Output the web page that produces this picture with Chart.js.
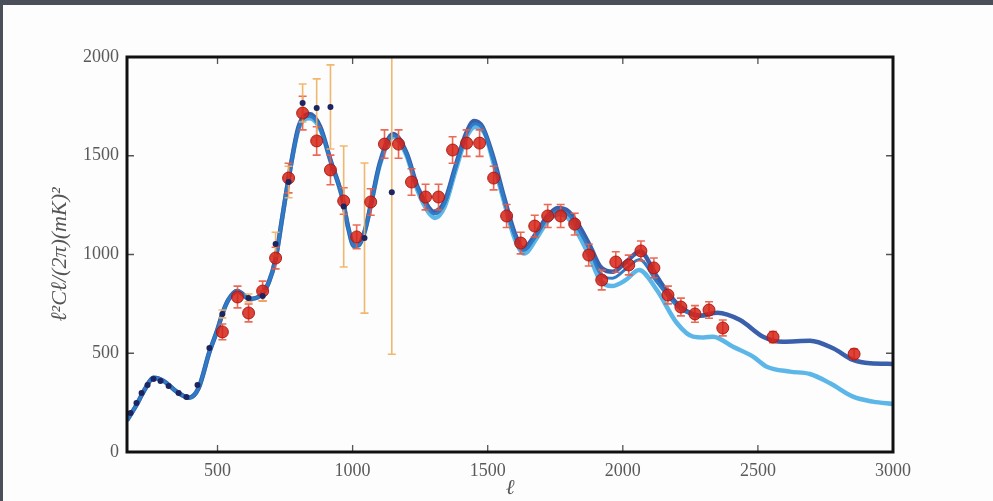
<!DOCTYPE html>
<html>
<head>
<meta charset="utf-8">
<script src="https://cdn.jsdelivr.net/npm/chart.js@4.4.1/dist/chart.umd.min.js"></script>
<style>
  html, body { margin: 0; padding: 0; background: #4b4f5a; }
  body { width: 993px; height: 501px; overflow: hidden; position: relative; }
  #wrap { position: absolute; left: 3px; top: 5px; width: 990px; height: 496px; background: #fdfdfe; }
</style>
</head>
<body>
<div id="wrap"><canvas id="spectrum" width="990" height="496"></canvas></div>
<script>
const xTicks = [500, 1000, 1500, 2000, 2500, 3000];
const yTicks = [0, 500, 1000, 1500, 2000];

// red points (small-scale data) with their error bars
const redL = [518, 574, 615, 667, 715, 763, 815, 867, 918, 967, 1015, 1067, 1118, 1170, 1218, 1270, 1318, 1370, 1422, 1470,
  1522, 1570, 1622, 1674, 1722, 1770, 1822, 1874, 1922, 1974, 2022, 2067, 2115, 2167, 2215, 2267, 2319, 2370, 2556, 2856];
const redV = [608, 785, 704, 815, 982, 1387, 1716, 1575, 1428, 1271, 1089, 1266, 1559, 1559, 1367, 1291, 1291, 1529, 1564, 1564,
  1387, 1195, 1058, 1144, 1195, 1195, 1154, 997, 871, 962, 947, 1018, 932, 795, 734, 699, 719, 628, 582, 496];
const redErr = [40, 55, 45, 50, 55, 75, 85, 72, 75, 67, 60, 67, 72, 72, 67, 65, 65, 67, 67, 67,
  60, 58, 55, 55, 58, 58, 55, 55, 50, 52, 50, 50, 50, 45, 45, 42, 42, 40, 28, 25];

// small navy points, orange error bars
const wmapL = [178, 200, 219, 241, 263, 289, 319, 356, 385, 426, 470, 518, 615, 667, 715, 763, 815, 867, 918, 967, 1044, 1145];
const wmapV = [197, 248, 299, 339, 370, 359, 334, 299, 278, 339, 527, 699, 780, 790, 1053, 1367, 1767, 1742, 1747, 1243, 1083, 1315];
const wmapErr = [0, 0, 0, 0, 0, 0, 0, 0, 0, 0, 0, 20, 20, 25, 60, 80, 96, 147, 213, 306, 380, 820];

// model curves
const darkL = [165, 200, 230, 263, 300, 350, 395, 430, 470, 500, 518, 540, 573, 620, 660, 690, 715, 740, 763, 800,
  840, 880, 920, 960, 985, 1005, 1022, 1045, 1067, 1100, 1150, 1200, 1240, 1280, 1300, 1340, 1380, 1420, 1450, 1480,
  1520, 1560, 1600, 1630, 1680, 1720, 1760, 1800, 1840, 1880, 1916, 1964, 2010, 2064, 2126, 2170, 2212, 2286, 2350, 2434,
  2519, 2593, 2693, 2778, 2852, 2915, 3000];
const darkV = [160, 238, 315, 376, 360, 304, 275, 324, 506, 620, 700, 770, 815, 775, 795, 860, 977, 1191, 1384, 1647,
  1711, 1647, 1470, 1300, 1130, 1045, 1048, 1120, 1250, 1460, 1610, 1513, 1343, 1242, 1217, 1267, 1444, 1613, 1676, 1647,
  1495, 1293, 1108, 1032, 1108, 1192, 1235, 1217, 1141, 1040, 940, 913, 960, 1015, 888, 800, 736, 690, 705, 668,
  584, 558, 563, 525, 466, 449, 446];

const midL = [165, 200, 230, 263, 300, 350, 395, 430, 470, 500, 518, 540, 573, 620, 660, 690, 715, 740, 763, 800,
  840, 880, 920, 960, 985, 1005, 1022, 1045, 1067, 1100, 1150, 1200, 1240, 1280, 1302, 1340, 1380, 1420, 1452, 1485,
  1520, 1560, 1600, 1632, 1680, 1720, 1762, 1800, 1840, 1880, 1916, 1962, 2010, 2062, 2126, 2212, 2286];
const midV = [160, 238, 315, 376, 360, 304, 275, 324, 506, 620, 700, 770, 815, 775, 795, 860, 977, 1191, 1384, 1640,
  1700, 1640, 1468, 1298, 1128, 1045, 1048, 1118, 1248, 1455, 1603, 1508, 1335, 1232, 1205, 1255, 1435, 1603, 1662, 1630,
  1485, 1283, 1095, 1020, 1095, 1180, 1222, 1200, 1118, 1015, 905, 880, 925, 975, 860, 725, 688];

const lightL = [165, 200, 230, 263, 300, 350, 395, 430, 470, 500, 518, 540, 573, 620, 660, 690, 715, 740, 763, 800,
  840, 880, 920, 960, 985, 1005, 1022, 1045, 1067, 1100, 1150, 1200, 1240, 1280, 1305, 1340, 1380, 1420, 1455, 1490,
  1520, 1560, 1600, 1635, 1680, 1720, 1765, 1800, 1840, 1880, 1916, 1960, 2010, 2060, 2126, 2200, 2260, 2300, 2334, 2408,
  2482, 2533, 2619, 2693, 2767, 2852, 2926, 3000];
const lightV = [160, 238, 315, 376, 360, 304, 275, 324, 506, 620, 700, 770, 815, 775, 795, 860, 977, 1191, 1384, 1635,
  1690, 1635, 1465, 1295, 1125, 1040, 1045, 1115, 1245, 1450, 1595, 1500, 1325, 1215, 1185, 1240, 1420, 1590, 1647, 1610,
  1470, 1270, 1080, 1005, 1080, 1165, 1205, 1180, 1090, 980, 870, 840, 870, 922, 820, 653, 584, 580, 584, 533,
  483, 432, 407, 395, 348, 280, 255, 243];

const pts = (ls, vs) => ls.map((l, i) => ({ x: l, y: vs[i] }));
const serif = "'Liberation Serif', 'DejaVu Serif', serif";

// error bars + frame with inward ticks
const errorBars = {
  id: 'errorBars',
  afterDatasetDraw(chart, args) {
    if (!chart.data.datasets[args.index].barsAfter) return;
    const { ctx, chartArea: a, scales: { x, y } } = chart;
    ctx.save();
    ctx.beginPath();
    ctx.rect(a.left, a.top, a.right - a.left, a.bottom - a.top);
    ctx.clip();
    chart.data.datasets.forEach(ds => {
      if (!ds.errors) return;
      ctx.strokeStyle = ds.errorColor;
      ctx.lineWidth = 1.6;
      ds.data.forEach((p, i) => {
        const e = ds.errors[i];
        if (!e) return;
        const px = x.getPixelForValue(p.x);
        const top = y.getPixelForValue(p.y + e);
        const bot = y.getPixelForValue(p.y - e);
        ctx.beginPath();
        ctx.moveTo(px, top); ctx.lineTo(px, bot);
        ctx.moveTo(px - 4, top); ctx.lineTo(px + 4, top);
        ctx.moveTo(px - 4, bot); ctx.lineTo(px + 4, bot);
        ctx.stroke();
      });
    });
    ctx.restore();
  }
};

const frame = {
  id: 'frame',
  afterDraw(chart) {
    const { ctx, chartArea: a, scales: { x, y } } = chart;
    ctx.save();
    ctx.strokeStyle = '#555';
    ctx.lineWidth = 1.3;
    ctx.beginPath();
    x.ticks.forEach(t => {
      const px = x.getPixelForValue(t.value);
      ctx.moveTo(px, a.top); ctx.lineTo(px, a.top + 7);
      ctx.moveTo(px, a.bottom); ctx.lineTo(px, a.bottom - 7);
    });
    y.ticks.forEach(t => {
      const py = y.getPixelForValue(t.value);
      ctx.moveTo(a.left, py); ctx.lineTo(a.left + 7, py);
      ctx.moveTo(a.right, py); ctx.lineTo(a.right - 7, py);
    });
    ctx.stroke();
    ctx.strokeStyle = '#111';
    ctx.lineWidth = 3;
    ctx.strokeRect(a.left, a.top, a.right - a.left, a.bottom - a.top);
    ctx.restore();
  }
};

new Chart(document.getElementById('spectrum').getContext('2d'), {
  type: 'scatter',
  data: {
    datasets: [
      {
        label: 'model 3',
        data: pts(lightL, lightV),
        showLine: true, pointRadius: 0, borderWidth: 4.5,
        borderColor: '#5db6e8', cubicInterpolationMode: 'monotone',
        order: 6
      },
      {
        label: 'model 1',
        data: pts(darkL, darkV),
        showLine: true, pointRadius: 0, borderWidth: 4.5,
        borderColor: '#3a5fab', cubicInterpolationMode: 'monotone',
        order: 5
      },
      {
        label: 'model 2',
        data: pts(midL, midV),
        showLine: true, pointRadius: 0, borderWidth: 3,
        borderColor: '#2f7cc6', cubicInterpolationMode: 'monotone',
        barsAfter: true,
        order: 4
      },
      {
        label: 'small scale',
        data: pts(redL, redV),
        errors: redErr, errorColor: 'rgba(232,90,70,0.9)',
        pointRadius: 6, pointBackgroundColor: 'rgba(214,34,22,0.85)',
        pointBorderColor: 'rgba(170,20,12,0.9)', pointBorderWidth: 1,
        order: 2
      },
      {
        label: 'large scale',
        data: pts(wmapL, wmapV),
        errors: wmapErr, errorColor: 'rgba(240,175,95,0.9)',
        pointRadius: 3, pointBackgroundColor: '#1d2560',
        pointBorderColor: '#1d2560', pointBorderWidth: 0,
        order: 1
      }
    ]
  },
  options: {
    responsive: false,
    animation: false,
    layout: { padding: { left: 0, top: 52, right: 100, bottom: 0 } },
    plugins: { legend: { display: false }, tooltip: { enabled: false } },
    scales: {
      x: {
        type: 'linear', min: 165, max: 3000,
        afterBuildTicks: s => { s.ticks = xTicks.map(v => ({ value: v })); },
        afterFit: s => { s.height = 49; },
        grid: { display: false, drawTicks: false },
        border: { display: false },
        ticks: { padding: 8, color: '#5a5a5a', font: { family: serif, size: 18 }, callback: v => String(v) },
        title: { display: true, text: 'ℓ', color: '#555', padding: { top: 0, bottom: 0 },
          font: { family: serif, size: 21, style: 'italic' } }
      },
      y: {
        min: 0, max: 2000,
        afterBuildTicks: s => { s.ticks = yTicks.map(v => ({ value: v })); },
        afterFit: s => { s.width = 124; },
        grid: { display: false, drawTicks: false },
        border: { display: false },
        ticks: { padding: 8, color: '#5a5a5a', font: { family: serif, size: 18 }, callback: v => String(v) },
        title: { display: true, text: 'ℓ²Cℓ/(2π)(mK)²', color: '#555', padding: { top: 44, bottom: 0 },
          font: { family: serif, size: 22, style: 'italic' } }
      }
    }
  },
  plugins: [errorBars, frame]
});
</script>
</body>
</html>
